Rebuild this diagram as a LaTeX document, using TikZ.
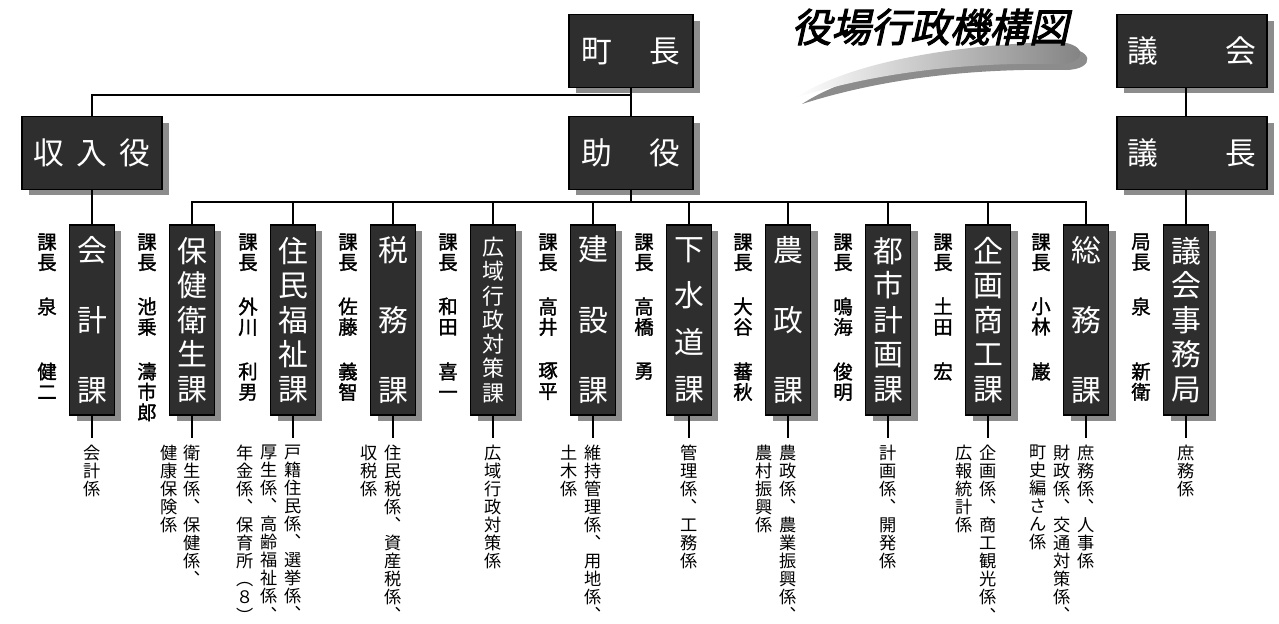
\documentclass[tikz,border=0pt]{standalone}
\usepackage{fontspec}
\usetikzlibrary{shadows}
\newfontfamily\jp[AutoFakeBold=1.6]{Noto Sans CJK JP}
\newfontfamily\titlefont[FakeSlant=0.22,FakeBold=2.5]{Noto Sans CJK JP}
\ExplSyntaxOn
\NewDocumentCommand\vtext{m}{
  \seq_clear:N \l_tmpa_seq
  \exp_args:No \tl_map_inline:nn {#1} {\seq_put_right:Nn \l_tmpa_seq {##1}}
  \seq_use:Nn \l_tmpa_seq {\\}
}
\ExplSyntaxOff

\begin{document}
\begin{tikzpicture}[x=0.02cm, y=-0.02cm, line width=0.7pt,
    shade/.style = {drop shadow = {shadow xshift=0.14cm, shadow yshift=-0.12cm, fill=black!45, opacity=1}},
    topbox/.style = {shade, fill=black!82, draw=black, text=white, minimum height=1.45cm, inner sep=0pt, font=\jp\fontsize{17.5}{20}\selectfont},
    kabox/.style = {shade, fill=black!82, draw=black, text=white, minimum width=0.9cm, minimum height=3.8cm, inner sep=0pt, align=center},
    chief/.style = {anchor=north, inner sep=0pt, align=center, font=\jp\bfseries\fontsize{11}{11.6}\selectfont},
    kakari/.style = {anchor=north, inner sep=0pt, align=center, font=\jp\fontsize{9.8}{10.3}\selectfont}]
  \useasboundingbox (0,0) rectangle (1279,623);

  % title
  \shade[left color=white, right color=black!50] (795,98) .. controls (850,62) and (950,46) .. (1050,42)
    .. controls (1088,40) and (1090,64) .. (1058,64) .. controls (960,62) and (870,74) .. (795,98) -- cycle;
  \node[font=\titlefont\fontsize{22.5}{24}\selectfont] (title) at (930,27) {役場行政機構図};

  % top
  \node[topbox, minimum width=2.48cm] (chocho) at (631,51) {町\hspace{21pt}長};
  \node[topbox, minimum width=2.48cm] (joyaku) at (631,153) {助\hspace{21pt}役};
  \node[topbox, minimum width=2.8cm] (shunyu) at (92,153) {収\hspace{7pt}入\hspace{7pt}役};
  \node[topbox, minimum width=3cm] (gikai) at (1192,51) {議\hspace{38pt}会};
  \node[topbox, minimum width=3cm] (gicho) at (1192,153) {議\hspace{38pt}長};

  % departments
  \node[kabox, font=\jp\fontsize{17}{40}\selectfont] (kaikei) at (92,320) {\vtext{会計課}};
  \node[kabox, font=\jp\fontsize{17}{19.6}\selectfont] (hoken) at (192,320) {\vtext{保健衛生課}};
  \node[kabox, font=\jp\fontsize{17}{19.6}\selectfont] (jumin) at (293,320) {\vtext{住民福祉課}};
  \node[kabox, font=\jp\fontsize{17}{40}\selectfont] (zeimu) at (393,320) {\vtext{税務課}};
  \node[kabox, font=\jp\fontsize{12.5}{13.8}\selectfont] (koiki) at (493,320) {\vtext{広域行政対策課}};
  \node[kabox, font=\jp\fontsize{17}{40}\selectfont] (kensetsu) at (593,320) {\vtext{建設課}};
  \node[kabox, font=\jp\fontsize{17}{26.6}\selectfont] (gesui) at (689,320) {\vtext{下水道課}};
  \node[kabox, font=\jp\fontsize{17}{40}\selectfont] (nosei) at (788,320) {\vtext{農政課}};
  \node[kabox, font=\jp\fontsize{17}{19.6}\selectfont] (toshi) at (888,320) {\vtext{都市計画課}};
  \node[kabox, font=\jp\fontsize{17}{19.6}\selectfont] (kikaku) at (988,320) {\vtext{企画商工課}};
  \node[kabox, font=\jp\fontsize{17}{40}\selectfont] (somu) at (1086,320) {\vtext{総務課}};
  \node[kabox, font=\jp\fontsize{17}{19.6}\selectfont] (jimu) at (1186,320) {\vtext{議会事務局}};

  % chiefs
  \foreach \x/\t/\s/\g [count=\i] in {47/課長/泉/健二, 147/課長/池乗/濤市郎, 248/課長/外川/利男,
      348/課長/佐藤/義智, 448/課長/和田/喜一, 548/課長/高井/琢平, 644/課長/高橋/勇,
      743/課長/大谷/蕃秋, 843/課長/鳴海/俊明, 943/課長/土田/宏, 1041/課長/小林/巌, 1141/局長/泉/新衛} {
    \node[chief] (ti\i) at (\x,233) {\vtext{\t}};
    \node[chief] (sei\i) at (\x,297) {\vtext{\s}};
    \node[chief] (mei\i) at (\x,362) {\vtext{\g}};
  }

  % sections
  \node[kakari] (kaikei-a) at (92,444) {\vtext{会計係}};
  \node[kakari] (hoken-a) at (192,444) {\vtext{衛生係︑保健係︑}};
  \node[kakari] (hoken-b) at (169,444) {\vtext{健康保険係}};
  \node[kakari] (jumin-a) at (293,444) {\vtext{戸籍住民係︑選挙係︑}};
  \node[kakari] (jumin-b) at (269,444) {\vtext{厚生係︑高齢福祉係︑}};
  \node[kakari] (jumin-c) at (245,444) {\vtext{年金係︑保育所︵８︶}};
  \node[kakari] (zeimu-a) at (393,444) {\vtext{住民税係︑資産税係︑}};
  \node[kakari] (zeimu-b) at (369,444) {\vtext{収税係}};
  \node[kakari] (koiki-a) at (493,444) {\vtext{広域行政対策係}};
  \node[kakari] (kensetsu-a) at (593,444) {\vtext{維持管理係︑用地係︑}};
  \node[kakari] (kensetsu-b) at (569,444) {\vtext{土木係}};
  \node[kakari] (gesui-a) at (689,444) {\vtext{管理係︑工務係}};
  \node[kakari] (nosei-a) at (788,444) {\vtext{農政係︑農業振興係︑}};
  \node[kakari] (nosei-b) at (764,444) {\vtext{農村振興係}};
  \node[kakari] (toshi-a) at (888,444) {\vtext{計画係︑開発係}};
  \node[kakari] (kikaku-a) at (988,444) {\vtext{企画係︑商工観光係︑}};
  \node[kakari] (kikaku-b) at (964,444) {\vtext{広報統計係}};
  \node[kakari] (somu-a) at (1086,444) {\vtext{庶務係︑人事係}};
  \node[kakari] (somu-b) at (1062,444) {\vtext{財政係︑交通対策係︑}};
  \node[kakari] (somu-c) at (1038,444) {\vtext{町史編さん係}};
  \node[kakari] (jimu-a) at (1186,444) {\vtext{庶務係}};

  % lines
  \coordinate (j1) at (631,95);
  \coordinate (j2) at (631,202);
  \draw (chocho) -- (joyaku);
  \draw (shunyu.north) |- (j1);
  \draw (shunyu.south) -- (kaikei.north);
  \draw (joyaku.south) -- (j2);
  \foreach \d in {hoken, jumin, zeimu, koiki, kensetsu, gesui, nosei, toshi, kikaku, somu}
    \draw (\d.north) |- (j2);
  \draw (gikai.south -| jimu.north) -- (gicho.north -| jimu.north);
  \draw (gicho.south -| jimu.north) -- (jimu.north);
  \foreach \d in {kaikei, hoken, jumin, zeimu, koiki, kensetsu, gesui, nosei, toshi, kikaku, somu, jimu}
    \draw[shorten >=1.2mm] (\d.south) -- (\d-a.north);
\end{tikzpicture}
\end{document}
